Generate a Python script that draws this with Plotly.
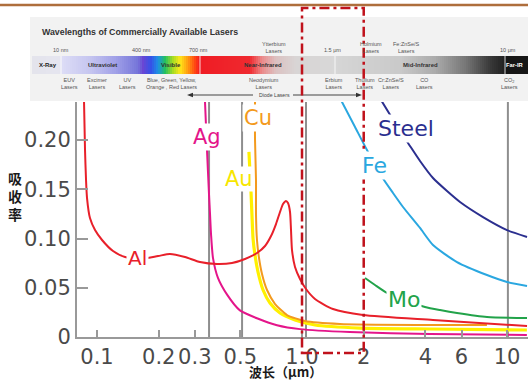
import math
import plotly.graph_objects as go

# ---------------- data ----------------
al_x = [0.0864, 0.0874, 0.0884, 0.0894, 0.0924, 0.0978, 0.1058, 0.1197, 0.1370, 0.1621,
        0.1985, 0.2270, 0.2688, 0.3180, 0.3849, 0.4555, 0.5272, 0.6033, 0.6601, 0.7061,
        0.7466, 0.7810, 0.8078, 0.8355, 0.8545, 0.8740, 0.8838, 0.8938, 0.9244, 0.9778,
        1.046, 1.157, 1.416, 1.985, 4.355, 12.52]
al_y = [0.2406, 0.1898, 0.1594, 0.1411, 0.1208, 0.1086, 0.0985, 0.0873, 0.0812, 0.0792,
        0.0822, 0.0843, 0.0812, 0.0761, 0.0741, 0.0751, 0.0792, 0.0853, 0.0924, 0.1025,
        0.1147, 0.1269, 0.1350, 0.1381, 0.1360, 0.1269, 0.1086, 0.0883, 0.0711, 0.0589,
        0.0487, 0.0386, 0.0284, 0.0223, 0.0173, 0.0112]

ag_x = [0.336, 0.344, 0.352, 0.356, 0.360, 0.368, 0.389, 0.431, 0.498, 0.603, 0.755,
        0.978, 1.71, 4.21, 12.5]
ag_y = [0.241, 0.190, 0.144, 0.124, 0.104, 0.080, 0.060, 0.043, 0.027, 0.019, 0.012,
        0.008, 0.005, 0.003, 0.002]

au_x = [0.551, 0.558, 0.564, 0.570, 0.577, 0.590, 0.610, 0.645, 0.698, 0.781, 0.924,
        1.157, 1.918, 4.21, 12.5]
au_y = [0.188, 0.165, 0.147, 0.124, 0.100, 0.083, 0.066, 0.048, 0.0345, 0.0244, 0.0173,
        0.0122, 0.0091, 0.0081, 0.0071]

cu_x = [0.590, 0.590, 0.5965, 0.5965, 0.603, 0.617, 0.638, 0.675, 0.739, 0.845, 1.034,
        1.532, 3.76, 7.98]
cu_y = [0.2406, 0.200, 0.159, 0.124, 0.0985, 0.0802, 0.064, 0.0477, 0.0335, 0.0223,
        0.0162, 0.0132, 0.0122, 0.0122]

fe_x = [1.549, 1.814, 2.075, 2.270, 2.456, 2.779, 3.109, 3.764, 4.355, 5.703, 7.985,
        10.0, 12.52]
fe_y = [0.2406, 0.2132, 0.1898, 0.1756, 0.1624, 0.1462, 0.1320, 0.1107, 0.0934, 0.0761,
        0.0629, 0.0558, 0.0518]

steel_x = [2.429, 2.748, 3.006, 3.289, 3.764, 4.355, 5.097, 5.898, 7.637, 10.0, 12.52]
steel_y = [0.2406, 0.2223, 0.2091, 0.1970, 0.1787, 0.1614, 0.1482, 0.1371, 0.1218,
           0.1086, 0.1015]

mo_x = [2.029, 2.270, 2.598, 3.145, 3.981, 4.712, 5.703, 7.985, 12.52]
mo_y = [0.0599, 0.0528, 0.0447, 0.0376, 0.0305, 0.0274, 0.0244, 0.0203, 0.0193]

x_tick_vals = [0.1, 0.2, 0.3, 0.5, 1, 2, 4, 6, 10]
x_tick_text = ["0.1", "0.2", "0.3", "0.5", "1.0", "2", "4", "6", "10"]
y_tick_vals = [0, 0.05, 0.10, 0.15, 0.20]
y_tick_text = ["0", "0.05", "0.10", "0.15", "0.20"]

laser_lines = [0.352, 0.51, 1.046, 10.1]      # grey reference wavelengths
window = [1.0, 2.0]                            # red dash-dot window (µm)

# ---------------- layout helpers ----------------
W, H = 528, 381
ML, MR, MT, MB = 77, 0, 102, 44
PW = W - ML - MR
PH = H - MT - MB


def px(xpix):
    return (xpix - ML) / PW


def py(ypix):
    return (H - MB - ypix) / PH


FONT = "DejaVu Sans"
BFONT = "Liberation Sans, Arial"
CJK = "Noto Sans CJK SC"

fig = go.Figure()

series = [
    ("Ag", ag_x, ag_y, "#e4158a", 2),
    ("Au", au_x, au_y, "#fff000", 3.2),
    ("Cu", cu_x, cu_y, "#f39a1e", 2),
    ("Al", al_x, al_y, "#e8202a", 2),
    ("Fe", fe_x, fe_y, "#2aa7e0", 2),
    ("Steel", steel_x, steel_y, "#2b2f8f", 2),
    ("Mo", mo_x, mo_y, "#22a34a", 2),
]
for name, xs, ys, col, w in series:
    fig.add_trace(go.Scatter(x=xs, y=ys, mode="lines", name=name,
                             line=dict(color=col, width=w, shape="spline", smoothing=0.6),
                             hoverinfo="skip"))

shapes = []
for v in laser_lines:
    shapes.append(dict(type="line", xref="x", yref="paper", x0=v, x1=v, y0=0, y1=1,
                       line=dict(color="#8e8e8e", width=2), layer="below"))

shapes.append(dict(type="line", xref="paper", yref="paper", x0=px(0), x1=px(528),
                   y0=py(5), y1=py(5), line=dict(color="#ae6e3c", width=2.5)))
shapes.append(dict(type="rect", xref="paper", yref="paper", x0=px(30), x1=px(528),
                   y0=py(101), y1=py(17), fillcolor="#f2f2f2", line=dict(width=0)))

stops = [(32, "#e4e4ec"), (60, "#e6e6f0"), (63, "#dcdcf6"), (90, "#c6c6f0"), (115, "#a2a2e8"),
         (138, "#7676da"), (143, "#6a46d4"), (151, "#3552e8"), (158, "#1e92e6"), (165, "#24c060"),
         (173, "#a8dc22"), (180, "#ffe81a"), (188, "#ff9a10"), (196, "#ff3a14"), (200, "#ef1c24"),
         (250, "#f02a30"), (262, "#ec8a8a"), (276, "#dcc2c2"), (296, "#d9d5d5"), (333, "#d8d8d8"),
         (337, "#d6d6d6"), (400, "#cacaca"), (435, "#acacac"), (465, "#787878"), (490, "#3a3a3a"),
         (504, "#222222"), (506, "#161616"), (528, "#161616")]


def hex2rgb(h):
    return tuple(int(h[i:i + 2], 16) for i in (1, 3, 5))


def color_at(p):
    for (a, ca), (b, cb) in zip(stops[:-1], stops[1:]):
        if a <= p <= b:
            t = 0 if b == a else (p - a) / (b - a)
            r1, g1, b1 = hex2rgb(ca)
            r2, g2, b2 = hex2rgb(cb)
            return "rgb(%d,%d,%d)" % (r1 + (r2 - r1) * t, g1 + (g2 - g1) * t, b1 + (b2 - b1) * t)
    return stops[-1][1]


xp = 32
while xp < 528:
    shapes.append(dict(type="rect", xref="paper", yref="paper", x0=px(xp), x1=px(min(xp + 2.4, 528)),
                       y0=py(74), y1=py(56), fillcolor=color_at(xp + 1), line=dict(width=0)))
    xp += 2
for sep in (61, 200, 335, 505):
    shapes.append(dict(type="line", xref="paper", yref="paper", x0=px(sep), x1=px(sep),
                       y0=py(74), y1=py(56), line=dict(color="rgba(255,255,255,0.8)", width=1)))

# diode-laser arrows (lines + heads)
for x0, x1 in ((191, 253), (293, 358)):
    shapes.append(dict(type="line", xref="paper", yref="paper", x0=px(x0), x1=px(x1),
                       y0=py(95), y1=py(95), line=dict(color="#444", width=1)))
for tip, base in ((187, 193), (362, 356)):
    shapes.append(dict(type="path", xref="paper", yref="paper",
                       path="M %f %f L %f %f L %f %f Z" % (px(tip), py(95), px(base), py(92.8),
                                                           px(base), py(97.2)),
                       fillcolor="#333", line=dict(width=0)))

shapes.append(dict(type="rect", xref="x", yref="paper", x0=window[0], x1=window[1],
                   y0=py(353), y1=py(8), line=dict(color="#c0121c", width=2.5, dash="10px,4px,3px,4px"),
                   layer="above"))

annotations = []


def lab(text, x, y, col, size=21, pad=1, bg="white"):
    annotations.append(dict(text=text, x=math.log10(x), y=y, xref="x", yref="y", showarrow=False,
                            font=dict(family=FONT, size=size, color=col), bgcolor=bg,
                            borderpad=pad, xanchor="center", yanchor="middle"))


lab("Al", 0.158, 0.080, "#e8202a", 20)
lab("Ag", 0.344, 0.203, "#e4158a")
lab("Cu", 0.61, 0.222, "#f39a1e")
lab("Au", 0.493, 0.160, "#f7e600", 21, 0)
lab("Steel", 3.22, 0.212, "#2b2f8f", 22)
lab("Fe", 2.27, 0.174, "#2aa7e0", 22)
lab("Mo", 3.14, 0.0376, "#22a34a", 22)

annotations.append(dict(text="<b>吸</b><br><b>收</b><br><b>率</b>", x=px(15), y=py(196),
                        xref="paper", yref="paper",
                        showarrow=False, font=dict(family=CJK, size=14, color="#1a1a1a"),
                        xanchor="center", yanchor="middle"))
annotations.append(dict(text="<b>波长（μm）</b>", x=px(247), y=py(371.5), xref="paper", yref="paper",
                        showarrow=False, font=dict(family=CJK, size=13, color="#1a1a1a"),
                        xanchor="left", yanchor="middle"))


def btxt(text, xpix, ypix, size=5.5, col="#555", anchor="center", bold=False):
    if bold:
        text = "<b>" + text + "</b>"
    annotations.append(dict(text=text, x=px(xpix), y=py(ypix), xref="paper", yref="paper",
                            showarrow=False, font=dict(family=BFONT, size=size, color=col),
                            xanchor=anchor, yanchor="middle"))


btxt("Wavelengths of Commercially Available Lasers", 40, 32, 8.8, "#333", "left", True)
for t, x in [("10 nm", 61), ("400 nm", 141), ("700 nm", 198), ("1.5 μm", 332), ("10 μm", 508)]:
    btxt(t, x, 50)
for t, x in [("Ytterbium<br>Lasers", 274), ("Holmium<br>Lasers", 371), ("Fe:ZnSe/S<br>Lasers", 406)]:
    btxt(t, x, 48)
for t, x, c in [("X-Ray", 48, "#222"), ("Ultraviolet", 102, "#333"), ("Visible", 171, "#333"),
                ("Near-Infrared", 263, "#333"), ("Mid-Infrared", 420, "#333")]:
    btxt(t, x, 65, 6, c, "center", True)
btxt("Far-IR", 526, 65, 5.8, "#fff", "right", True)
for t, x in [("EUV<br>Lasers", 69), ("Excimer<br>Lasers", 97), ("UV<br>Lasers", 127),
             ("Blue, Green, Yellow,<br>Orange , Red Lasers", 171), ("Neodymium<br>Lasers", 264),
             ("Erbium<br>Lasers", 334), ("Thulium<br>Lasers", 365), ("Cr:ZnSe/S<br>Lasers", 391),
             ("CO<br>Lasers", 424), ("CO<sub>2</sub><br>Lasers", 509)]:
    btxt(t, x, 83)
btxt("Diode Lasers", 274, 95, 5.2, "#444")

fig.update_layout(
    width=W, height=H,
    margin=dict(l=ML, r=MR, t=MT, b=MB, autoexpand=False),
    paper_bgcolor="white", plot_bgcolor="white",
    showlegend=False,
    shapes=shapes, annotations=annotations,
    xaxis=dict(type="log", range=[-1.0976, 1.1024], tickvals=x_tick_vals, ticktext=x_tick_text,
               ticks="inside", ticklen=7, tickwidth=2, tickcolor="#999", showline=True,
               linecolor="#999", linewidth=2, showgrid=False, zeroline=False, automargin=False,
               tickfont=dict(family=FONT, size=21, color="#4a4a4a"), ticklabelstandoff=0),
    yaxis=dict(range=[0, 0.2386], tickvals=y_tick_vals, ticktext=y_tick_text,
               ticks="inside", ticklen=11, tickwidth=2, tickcolor="#999", showline=True,
               linecolor="#999", linewidth=2, showgrid=False, zeroline=False, automargin=False,
               tickfont=dict(family=FONT, size=21, color="#4a4a4a")),
)

fig.write_html("out.html", config={"displayModeBar": False},
               post_script="document.body.style.margin='0';document.body.style.overflow='hidden';")
